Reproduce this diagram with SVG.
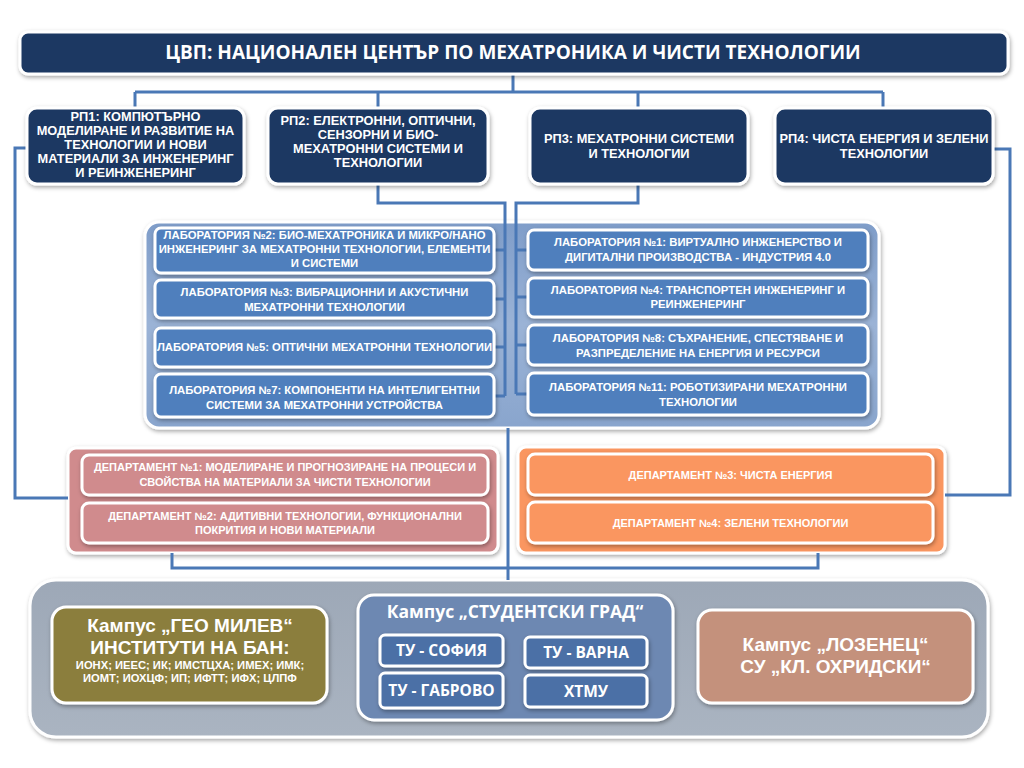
<svg xmlns="http://www.w3.org/2000/svg" width="1024" height="768" viewBox="0 0 1024 768">
<defs>
<filter id="sh" x="-10%" y="-10%" width="120%" height="130%">
<feDropShadow dx="1" dy="2" stdDeviation="2" flood-color="#000" flood-opacity="0.35"/>
</filter>
<linearGradient id="labpanel" x1="0" y1="0" x2="0" y2="1">
<stop offset="0" stop-color="#7f9dc9"/>
<stop offset="0.5" stop-color="#9bb3d6"/>
<stop offset="1" stop-color="#89a5cd"/>
</linearGradient>
<linearGradient id="campus" x1="0" y1="0" x2="0" y2="1">
<stop offset="0" stop-color="#9da8b7"/>
<stop offset="1" stop-color="#aab4c1"/>
</linearGradient>
</defs>
<style>
text{font-family:"Liberation Sans","Open Sans",sans-serif;font-weight:bold;fill:#fff;text-anchor:middle}
.os{font-family:"Open Sans","Liberation Sans",sans-serif}
.navy{fill:#1a3762;stroke:#fff;stroke-width:3;filter:url(#sh)}
.lab{fill:#4f7fbd;stroke:#fff;stroke-width:3;filter:url(#sh)}
.pink{fill:#d08b8d;stroke:#fff;stroke-width:3;filter:url(#sh)}
.orange{fill:#fa9660;stroke:#fff;stroke-width:3;filter:url(#sh)}
.conn{fill:none;stroke:#4a78b6;stroke-width:3}
.rp{font-size:12.8px}
.lt{font-size:11.3px}
.dt{font-size:11px}
.sub{fill:#4b70a6;stroke:#fff;stroke-width:3;filter:url(#sh)}
</style>
<rect width="1024" height="768" fill="#fff"/>

<!-- containers -->
<g id="lab-panel"><rect x="145" y="222" width="734" height="206" rx="14" fill="url(#labpanel)" stroke="#fff" stroke-width="3" filter="url(#sh)"/></g>
<g id="dept-panel-left"><rect x="68" y="448" width="430" height="105" rx="8" fill="#d08b8d" stroke="#fff" stroke-width="3" filter="url(#sh)"/></g>
<g id="dept-panel-right"><rect x="518" y="447" width="427" height="106" rx="8" fill="#fa9660" stroke="#fff" stroke-width="3" filter="url(#sh)"/></g>
<g id="campus-panel"><rect x="30" y="580" width="958" height="157" rx="26" fill="url(#campus)" stroke="#fff" stroke-width="3" filter="url(#sh)"/></g>

<!-- connectors -->
<g id="connectors" class="conn">
<path d="M513 74 V92 M135 92 H883 M135 92 V108 M378 92 V108 M638 92 V108 M883 92 V108"/>
<path d="M378 184 V203 H505 V396 M505 250 H494 M505 299 H494 M505 347 H494 M505 396 H494"/>
<path d="M638 184 V203 H516 V394 M516 250 H528 M516 297 H528 M516 345 H528 M516 394 H528"/>
<path d="M27 148 H15 V498 H68"/>
<path d="M993 149 H1010 V495 H945"/>
<path d="M508 428 V580"/>
<path d="M172 553 V568 H818 V553"/>
</g>

<g id="header">
<rect class="navy" x="20" y="32" width="988" height="42" rx="8"/>
<text class="os" x="513" y="59" font-size="19">ЦВП: НАЦИОНАЛЕН ЦЕНТЪР ПО МЕХАТРОНИКА И ЧИСТИ ТЕХНОЛОГИИ</text>
</g>

<g id="rp1">
<rect class="navy" x="27" y="108" width="217" height="76" rx="10"/>
<text class="rp" x="135.5" y="121">РП1: КОМПЮТЪРНО</text>
<text class="rp" x="135.5" y="135">МОДЕЛИРАНЕ И РАЗВИТИЕ НА</text>
<text class="rp" x="135.5" y="149">ТЕХНОЛОГИИ И НОВИ</text>
<text class="rp" x="135.5" y="163">МАТЕРИАЛИ ЗА ИНЖЕНЕРИНГ</text>
<text class="rp" x="135.5" y="177">И РЕИНЖЕНЕРИНГ</text>
</g>
<g id="rp2">
<rect class="navy" x="268" y="108" width="220" height="76" rx="10"/>
<text class="rp" x="378" y="125">РП2: ЕЛЕКТРОННИ, ОПТИЧНИ,</text>
<text class="rp" x="378" y="139">СЕНЗОРНИ И БИО-</text>
<text class="rp" x="378" y="153">МЕХАТРОННИ СИСТЕМИ И</text>
<text class="rp" x="378" y="167">ТЕХНОЛОГИИ</text>
</g>
<g id="rp3">
<rect class="navy" x="530" y="108" width="218" height="76" rx="10"/>
<text class="rp" x="639" y="143">РП3: МЕХАТРОННИ СИСТЕМИ</text>
<text class="rp" x="639" y="158">И ТЕХНОЛОГИИ</text>
</g>
<g id="rp4">
<rect class="navy" x="775" y="108" width="218" height="76" rx="10"/>
<text class="rp" x="884" y="143">РП4: ЧИСТА ЕНЕРГИЯ И ЗЕЛЕНИ</text>
<text class="rp" x="884" y="158">ТЕХНОЛОГИИ</text>
</g>

<g id="lab2">
<rect class="lab" x="155" y="228" width="339" height="45" rx="6"/>
<text class="lt" x="324.5" y="239">ЛАБОРАТОРИЯ №2: БИО-МЕХАТРОНИКА И МИКРО/НАНО</text>
<text class="lt" x="324.5" y="253">ИНЖЕНЕРИНГ ЗА МЕХАТРОННИ ТЕХНОЛОГИИ, ЕЛЕМЕНТИ</text>
<text class="lt" x="324.5" y="267">И СИСТЕМИ</text>
</g>
<g id="lab3">
<rect class="lab" x="155" y="280" width="339" height="38" rx="6"/>
<text class="lt" x="324.5" y="296">ЛАБОРАТОРИЯ №3: ВИБРАЦИОННИ И АКУСТИЧНИ</text>
<text class="lt" x="324.5" y="311">МЕХАТРОННИ ТЕХНОЛОГИИ</text>
</g>
<g id="lab5">
<rect class="lab" x="155" y="328" width="339" height="39" rx="6"/>
<text class="lt" x="324.5" y="351">ЛАБОРАТОРИЯ №5: ОПТИЧНИ МЕХАТРОННИ ТЕХНОЛОГИИ</text>
</g>
<g id="lab7">
<rect class="lab" x="155" y="374" width="339" height="43" rx="6"/>
<text class="lt" x="324.5" y="394">ЛАБОРАТОРИЯ №7: КОМПОНЕНТИ НА ИНТЕЛИГЕНТНИ</text>
<text class="lt" x="324.5" y="409">СИСТЕМИ ЗА МЕХАТРОННИ УСТРОЙСТВА</text>
</g>
<g id="lab1">
<rect class="lab" x="528" y="230" width="340" height="40" rx="6"/>
<text class="lt" x="698" y="246">ЛАБОРАТОРИЯ №1: ВИРТУАЛНО ИНЖЕНЕРСТВО И</text>
<text class="lt" x="698" y="261">ДИГИТАЛНИ ПРОИЗВОДСТВА - ИНДУСТРИЯ 4.0</text>
</g>
<g id="lab4">
<rect class="lab" x="528" y="278" width="340" height="39" rx="6"/>
<text class="lt" x="698" y="294">ЛАБОРАТОРИЯ №4: ТРАНСПОРТЕН ИНЖЕНЕРИНГ И</text>
<text class="lt" x="698" y="308">РЕИНЖЕНЕРИНГ</text>
</g>
<g id="lab8">
<rect class="lab" x="528" y="325" width="340" height="40" rx="6"/>
<text class="lt" x="698" y="342">ЛАБОРАТОРИЯ №8: СЪХРАНЕНИЕ, СПЕСТЯВАНЕ И</text>
<text class="lt" x="698" y="357">РАЗПРЕДЕЛЕНИЕ НА ЕНЕРГИЯ И РЕСУРСИ</text>
</g>
<g id="lab11">
<rect class="lab" x="528" y="373" width="340" height="42" rx="6"/>
<text class="lt" x="698" y="391">ЛАБОРАТОРИЯ №11: РОБОТИЗИРАНИ МЕХАТРОННИ</text>
<text class="lt" x="698" y="406">ТЕХНОЛОГИИ</text>
</g>

<g id="dept1">
<rect class="pink" x="82" y="455" width="406" height="40" rx="7"/>
<text class="dt" x="285" y="471">ДЕПАРТАМЕНТ №1: МОДЕЛИРАНЕ И ПРОГНОЗИРАНЕ НА ПРОЦЕСИ И</text>
<text class="dt" x="285" y="486">СВОЙСТВА НА МАТЕРИАЛИ ЗА ЧИСТИ ТЕХНОЛОГИИ</text>
</g>
<g id="dept2">
<rect class="pink" x="82" y="503" width="406" height="40" rx="7"/>
<text class="dt" x="285" y="520">ДЕПАРТАМЕНТ №2: АДИТИВНИ ТЕХНОЛОГИИ, ФУНКЦИОНАЛНИ</text>
<text class="dt" x="285" y="534">ПОКРИТИЯ И НОВИ МАТЕРИАЛИ</text>
</g>
<g id="dept3">
<rect class="orange" x="528" y="454" width="405" height="41" rx="7"/>
<text class="dt" x="730.5" y="479">ДЕПАРТАМЕНТ №3: ЧИСТА ЕНЕРГИЯ</text>
</g>
<g id="dept4">
<rect class="orange" x="528" y="502" width="405" height="41" rx="7"/>
<text class="dt" x="730.5" y="527">ДЕПАРТАМЕНТ №4: ЗЕЛЕНИ ТЕХНОЛОГИИ</text>
</g>

<g id="campus-geo-milev">
<rect x="52" y="607" width="275" height="96" rx="14" fill="#8b7e3c" stroke="#fff" stroke-width="3" filter="url(#sh)"/>
<text x="190" y="632" font-size="19">Кампус „ГЕО МИЛЕВ“</text>
<text x="190" y="654" font-size="19">ИНСТИТУТИ НА БАН:</text>
<text x="190" y="669" font-size="11.2">ИОНХ; ИЕЕС; ИК; ИМСТЦХА; ИМЕХ; ИМК;</text>
<text x="190" y="682" font-size="11.2">ИОМТ; ИОХЦФ; ИП; ИФТТ; ИФХ; ЦЛПФ</text>
</g>
<g id="campus-studentski-grad">
<rect x="358" y="595" width="315" height="125" rx="16" fill="#6d88b2" stroke="#fff" stroke-width="3" filter="url(#sh)"/>
<text class="os" x="515" y="618" font-size="17.5">Кампус „СТУДЕНТСКИ ГРАД“</text>
</g>
<g id="tu-sofia">
<rect class="sub" x="380" y="635" width="123" height="31" rx="5"/>
<text class="os" x="441.5" y="656" font-size="15.5">ТУ - СОФИЯ</text>
</g>
<g id="tu-gabrovo">
<rect class="sub" x="380" y="673" width="123" height="35" rx="5"/>
<text class="os" x="441.5" y="696" font-size="15.5">ТУ - ГАБРОВО</text>
</g>
<g id="tu-varna">
<rect class="sub" x="525" y="637" width="122" height="31" rx="5"/>
<text class="os" x="586" y="658" font-size="15.5">ТУ - ВАРНА</text>
</g>
<g id="htmu">
<rect class="sub" x="525" y="675" width="122" height="32" rx="5"/>
<text class="os" x="586" y="697" font-size="15.5">ХТМУ</text>
</g>
<g id="campus-lozenets">
<rect x="698" y="610" width="275" height="93" rx="14" fill="#c4917b" stroke="#fff" stroke-width="3" filter="url(#sh)"/>
<text x="835.5" y="651" font-size="19">Кампус „ЛОЗЕНЕЦ“</text>
<text x="835.5" y="673" font-size="19">СУ „КЛ. ОХРИДСКИ“</text>
</g>
</svg>
